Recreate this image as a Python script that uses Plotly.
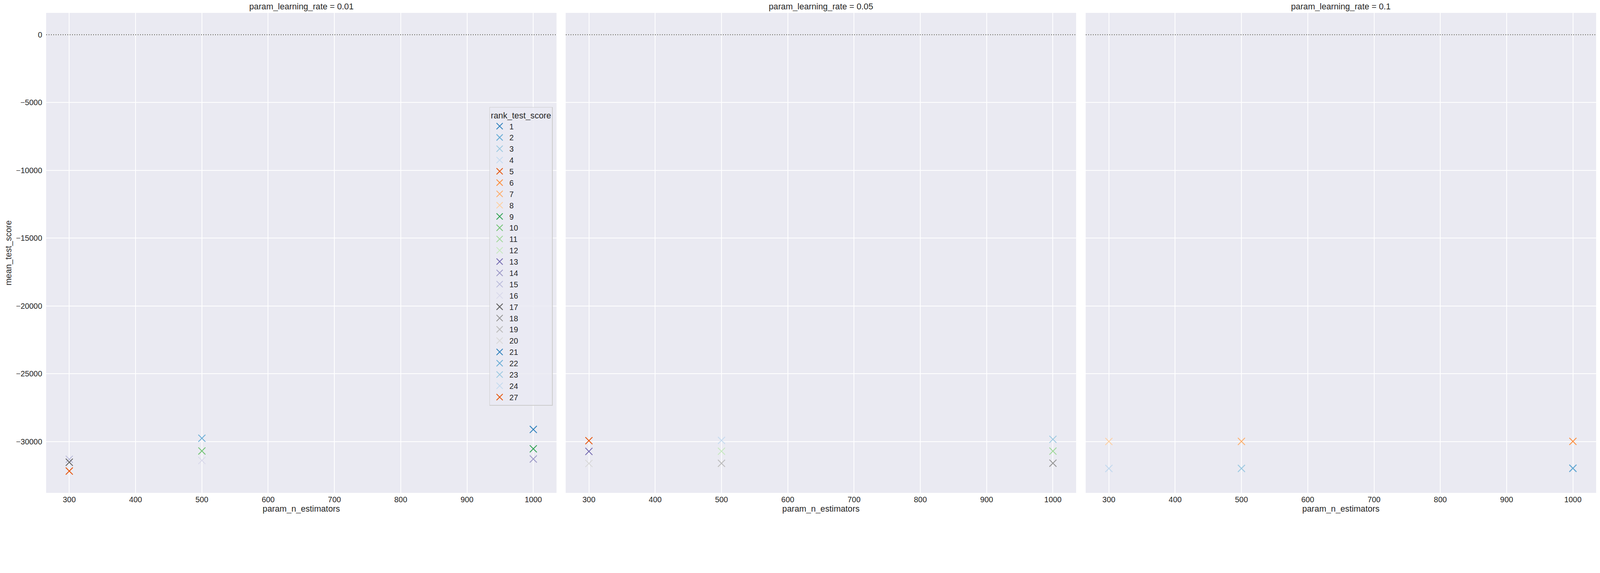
import plotly.graph_objects as go
from plotly.subplots import make_subplots

# facet values
learning_rates = [0.01, 0.05, 0.1]

# grid search results (one entry per fitted configuration)
param_learning_rate = [0.01, 0.01, 0.01, 0.01, 0.01, 0.01, 0.01, 0.01, 0.01,
                       0.05, 0.05, 0.05, 0.05, 0.05, 0.05, 0.05, 0.05, 0.05,
                       0.1, 0.1, 0.1, 0.1, 0.1, 0.1, 0.1, 0.1, 0.1]
param_n_estimators = [300, 300, 300, 500, 500, 500, 1000, 1000, 1000,
                      300, 300, 300, 500, 500, 500, 1000, 1000, 1000,
                      300, 300, 300, 500, 500, 500, 1000, 1000, 1000]
mean_test_score = [-31310, -31530, -32180, -29760, -30700, -31400, -29110, -30540, -31290,
                   -29940, -30730, -31620, -29920, -30720, -31610, -29840, -30710, -31600,
                   -30000, -31990, -31990, -29995, -31985, -31990, -29990, -31980, -31975]
rank_test_score = [15, 17, 27, 2, 10, 16, 1, 9, 14,
                   5, 13, 20, 4, 12, 19, 3, 11, 18,
                   8, 24, 24, 7, 23, 24, 6, 22, 21]

x_ticks = [300, 400, 500, 600, 700, 800, 900, 1000]

# seaborn "tab20c" palette
tab20c = ["#3182bd", "#6baed6", "#9ecae1", "#c6dbef", "#e6550d", "#fd8d3c", "#fdae6b", "#fdd0a2",
          "#31a354", "#74c476", "#a1d99b", "#c7e9c0", "#756bb1", "#9e9ac8", "#bcbddc", "#dadaeb",
          "#636363", "#969696", "#bdbdbd", "#d9d9d9"]

ranks = sorted(set(rank_test_score))
colors = {r: tab20c[i % len(tab20c)] for i, r in enumerate(ranks)}

FONT = "Liberation Sans, Arial, sans-serif"
TXT = "#262626"
S = 1 / 1.105  # page renders a bit larger than css px, so scale everything down

fig = make_subplots(rows=1, cols=3, shared_yaxes=True)

# rank 24 goes under the others where they overlap
draw_order = [24] + [r for r in ranks if r != 24]
for r in draw_order:
    shown = False
    for j, lr in enumerate(learning_rates):
        xs = [n for n, l, k in zip(param_n_estimators, param_learning_rate, rank_test_score) if l == lr and k == r]
        ys = [s for s, l, k in zip(mean_test_score, param_learning_rate, rank_test_score) if l == lr and k == r]
        if not xs:
            continue
        fig.add_trace(go.Scatter(
            x=xs, y=ys, mode="markers", name=str(r), legendgroup=str(r),
            legendrank=r, showlegend=not shown,
            marker=dict(symbol="x-thin", size=20 * S, color=colors[r],
                        line=dict(width=2.4 * S, color=colors[r])),
        ), row=1, col=j + 1)
        shown = True

fig.add_hline(y=0, line=dict(color="#808080", dash="dot", width=2.5 * S), row="all", col="all")

ymin = min(min(mean_test_score), 0)
ymax = max(max(mean_test_score), 0)
pad = (ymax - ymin) * 0.05

# target sizes in screen pixels
W, H = 4525, 1466
ml, mr, mt, mb = 130, 10, 36, 73
pw = W - ml - mr
ph = H - mt - mb
domains = [[0, 1444 / pw], [1470 / pw, 2914 / pw], [2941 / pw, 1.0]]

for j in range(3):
    ax = "xaxis" if j == 0 else "xaxis%d" % (j + 1)
    fig.layout[ax].update(
        domain=domains[j], range=[265, 1035], tickvals=x_ticks,
        showgrid=True, gridcolor="white", gridwidth=2 * S, zeroline=False, showline=False,
        tickfont=dict(size=22 * S, color=TXT, family=FONT), ticklabelstandoff=3,
        title=dict(text="param_n_estimators", font=dict(size=24 * S, color=TXT, family=FONT), standoff=6 * S),
    )
    ay = "yaxis" if j == 0 else "yaxis%d" % (j + 1)
    fig.layout[ay].update(
        range=[ymin - pad, ymax + pad], dtick=5000, tick0=0, tickformat="d",
        showgrid=True, gridcolor="white", gridwidth=2 * S, zeroline=False, showline=False,
        tickfont=dict(size=22 * S, color=TXT, family=FONT), ticklabelstandoff=9,
    )
    fig.add_annotation(
        text="param_learning_rate = %s" % learning_rates[j],
        xref="x%s domain" % ("" if j == 0 else j + 1), yref="paper",
        x=0.5, y=1, yanchor="bottom", xanchor="center", yshift=2 * S, showarrow=False,
        font=dict(size=24 * S, color=TXT, family=FONT),
    )

fig.update_yaxes(title=dict(text="mean_test_score", font=dict(size=24 * S, color=TXT, family=FONT), standoff=6 * S),
                 row=1, col=1)

fig.update_layout(
    width=W * S, height=H * S,
    margin=dict(l=ml * S, r=mr * S, t=mt * S, b=mb * S, pad=0),
    paper_bgcolor="white", plot_bgcolor="#eaeaf2",
    font=dict(family=FONT, color=TXT),
    legend=dict(
        title=dict(text="rank_test_score", side="top center", font=dict(size=24 * S, color=TXT, family=FONT)),
        font=dict(size=22 * S, color=TXT, family=FONT),
        x=(1563 - ml) / pw, xanchor="right", y=1 - (302 - mt) / ph, yanchor="top",
        bgcolor="rgba(234,234,242,0.8)", bordercolor="#cccccc", borderwidth=1.5 * S,
        tracegroupgap=0, itemsizing="trace", itemwidth=40,
    ),
)

# drop the default body margin so the figure sits at the page corner
fig.write_html("out.html", config={"displayModeBar": False},
               post_script="document.body.style.margin = '0';")
